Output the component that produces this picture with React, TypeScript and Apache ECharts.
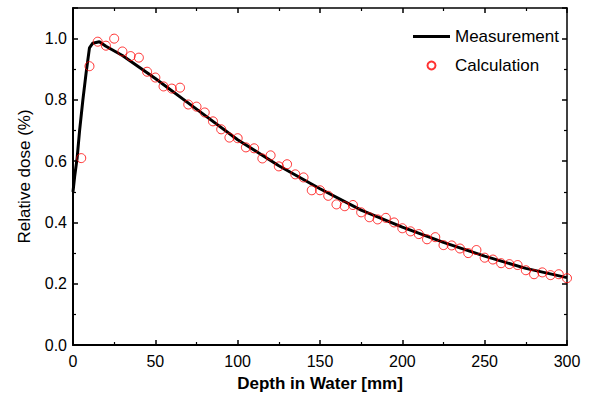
import React, { useEffect, useRef } from "react";
import * as echarts from "echarts";

const measDepth = [0, 1, 2.5, 4, 6, 8, 10, 12, 16, 20, 30, 50, 75, 100, 125, 150, 175, 200, 225, 250, 275, 300];
const measDose = [0.5, 0.55, 0.61, 0.7, 0.8, 0.89, 0.97, 0.985, 0.99, 0.975, 0.945, 0.87, 0.77, 0.67, 0.585, 0.51, 0.44, 0.385, 0.335, 0.29, 0.25, 0.22];

const calcDepth = [
  5, 10, 15, 20, 25, 30, 35, 40, 45, 50, 55, 60, 65, 70, 75, 80, 85, 90, 95, 100,
  105, 110, 115, 120, 125, 130, 135, 140, 145, 150, 155, 160, 165, 170, 175, 180, 185, 190, 195, 200,
  205, 210, 215, 220, 225, 230, 235, 240, 245, 250, 255, 260, 265, 270, 275, 280, 285, 290, 295, 300,
];
const calcDose = [
  0.61, 0.91, 0.99, 0.977, 1.0, 0.958, 0.943, 0.938, 0.892, 0.873, 0.844, 0.837, 0.84, 0.785, 0.778, 0.759, 0.73, 0.704, 0.677, 0.675,
  0.645, 0.642, 0.609, 0.619, 0.583, 0.59, 0.557, 0.547, 0.505, 0.505, 0.487, 0.459, 0.453, 0.457, 0.433, 0.417, 0.41, 0.415, 0.4, 0.381,
  0.371, 0.362, 0.345, 0.352, 0.326, 0.325, 0.315, 0.3, 0.31, 0.285, 0.279, 0.267, 0.264, 0.261, 0.244, 0.231, 0.237, 0.228, 0.231, 0.218,
];

const FONT = "'Liberation Sans', Arial, sans-serif";

export default function App() {
  const ref = useRef<HTMLDivElement>(null);
  useEffect(() => {
    if (!ref.current) return;
    const chart = echarts.init(ref.current, null, { renderer: "svg" });
    const axisCommon = {
      type: "value" as const,
      splitLine: { show: false },
      axisLine: { show: true, onZero: false, lineStyle: { color: "#000", width: 2 } },
      axisTick: { show: true, inside: true, length: 5, lineStyle: { color: "#000", width: 1.5 } },
      minorTick: { show: true, splitNumber: 2, length: 3, lineStyle: { color: "#000", width: 1.2 } },
    };
    chart.setOption({
      animation: false,
      backgroundColor: "#fff",
      textStyle: { fontFamily: FONT },
      grid: { left: 73, right: 22, top: 8, bottom: 54, containLabel: false },
      legend: {
        orient: "vertical",
        left: 408,
        top: 23,
        itemWidth: 37,
        itemHeight: 8,
        itemGap: 12,
        textStyle: { fontFamily: FONT, fontSize: 17, color: "#000" },
        data: [
          { name: "Measurement", icon: "path://M0,0 L37,0 L37,3 L0,3 Z", itemStyle: { color: "#000" } },
          { name: "Calculation" },
        ],
      },
      xAxis: [
        {
          ...axisCommon,
          min: 0,
          max: 300,
          interval: 50,
          position: "bottom",
          name: "Depth in Water [mm]",
          nameLocation: "middle",
          nameGap: 30,
          nameTextStyle: { fontFamily: FONT, fontSize: 17, fontWeight: "bold", color: "#000" },
          axisLabel: { fontFamily: FONT, fontSize: 16, color: "#000", margin: 8 },
        },
        {
          ...axisCommon,
          min: 0,
          max: 300,
          interval: 50,
          position: "top",
          axisLine: { show: true, onZero: false, lineStyle: { color: "#000", width: 1.5 } },
          axisLabel: { show: false },
        },
      ],
      yAxis: [
        {
          ...axisCommon,
          min: 0,
          max: 1.1,
          interval: 0.2,
          position: "left",
          name: "Relative dose (%)",
          nameLocation: "middle",
          nameGap: 40,
          nameTextStyle: { fontFamily: FONT, fontSize: 17, color: "#000" },
          axisLabel: {
            fontFamily: FONT,
            fontSize: 16,
            color: "#000",
            margin: 6,
            showMaxLabel: false,
            formatter: (v: number) => (v > 1.05 ? "" : v.toFixed(1)),
          },
        },
        {
          ...axisCommon,
          min: 0,
          max: 1.1,
          interval: 0.2,
          position: "right",
          axisLine: { show: true, onZero: false, lineStyle: { color: "#000", width: 1.5 } },
          axisLabel: { show: false },
        },
      ],
      series: [
        {
          name: "Measurement",
          type: "line",
          data: measDepth.map((d, i) => [d, measDose[i]]),
          showSymbol: false,
          symbol: "none",
          smooth: false,
          lineStyle: { color: "#000", width: 3 },
          itemStyle: { color: "#000" },
          z: 2,
        },
        {
          name: "Calculation",
          type: "scatter",
          data: calcDepth.map((d, i) => [d, calcDose[i]]),
          symbol: "circle",
          symbolSize: 9,
          itemStyle: { color: "rgba(255,255,255,0)", borderColor: "#ff0000", borderWidth: 1 },
          z: 3,
        },
      ],
    });
    return () => chart.dispose();
  }, []);
  return <div ref={ref} style={{ width: 589, height: 399, position: "absolute", left: 0, top: 0 }} />;
}
